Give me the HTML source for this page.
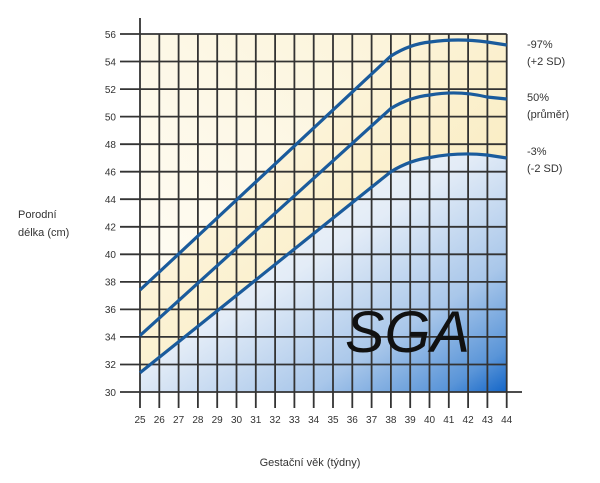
<!DOCTYPE html>
<html><head><meta charset="utf-8"><style>
html,body{margin:0;padding:0;background:#fff;width:600px;height:483px;overflow:hidden}
svg{display:block}
text{font-family:"Liberation Sans",sans-serif;fill:#333}
</style></head><body>
<svg width="600" height="483" viewBox="0 0 600 483">
<defs>
<linearGradient id="yel" x1="0" y1="0" x2="1" y2="1">
<stop offset="0" stop-color="#fefbf0"/><stop offset="1" stop-color="#f8e6ae"/>
</linearGradient>
<linearGradient id="top" x1="0" y1="1" x2="1" y2="0">
<stop offset="0" stop-color="#fffefa"/><stop offset="1" stop-color="#fbf2d4"/>
</linearGradient>
<linearGradient id="blu" x1="0.1" y1="0.1" x2="1" y2="1">
<stop offset="0" stop-color="#fffdf5"/><stop offset="0.4" stop-color="#e3ecf7"/><stop offset="0.7" stop-color="#a9c7ea"/><stop offset="0.9" stop-color="#5a95d8"/><stop offset="1" stop-color="#1466c8"/>
</linearGradient>
</defs>
<rect x="140" y="34" width="366.7" height="358" fill="url(#top)"/>
<path d="M140,290 L390.9,56 Q410,44 430,42 Q458,38 487,42 L506.7,45 L506.7,392 L140,392 Z" fill="url(#yel)"/>
<path d="M140,372.7 L390.9,171.7 Q410,160 430,157.5 Q458,152 487,155 L506.7,158 L506.7,392 L140,392 Z" fill="url(#blu)"/>
<g stroke="#333" stroke-width="1.8">
<line x1="159.3" y1="34" x2="159.3" y2="408"/><line x1="178.6" y1="34" x2="178.6" y2="408"/><line x1="197.9" y1="34" x2="197.9" y2="408"/><line x1="217.2" y1="34" x2="217.2" y2="408"/><line x1="236.5" y1="34" x2="236.5" y2="408"/><line x1="255.8" y1="34" x2="255.8" y2="408"/><line x1="275.1" y1="34" x2="275.1" y2="408"/><line x1="294.4" y1="34" x2="294.4" y2="408"/><line x1="313.7" y1="34" x2="313.7" y2="408"/><line x1="333" y1="34" x2="333" y2="408"/><line x1="352.3" y1="34" x2="352.3" y2="408"/><line x1="371.6" y1="34" x2="371.6" y2="408"/><line x1="390.9" y1="34" x2="390.9" y2="408"/><line x1="410.2" y1="34" x2="410.2" y2="408"/><line x1="429.5" y1="34" x2="429.5" y2="408"/><line x1="448.8" y1="34" x2="448.8" y2="408"/><line x1="468.1" y1="34" x2="468.1" y2="408"/><line x1="487.4" y1="34" x2="487.4" y2="408"/><line x1="506.7" y1="34" x2="506.7" y2="408"/>
<line x1="120" y1="34" x2="506.7" y2="34"/><line x1="120" y1="61.5" x2="506.7" y2="61.5"/><line x1="120" y1="89.1" x2="506.7" y2="89.1"/><line x1="120" y1="116.6" x2="506.7" y2="116.6"/><line x1="120" y1="144.2" x2="506.7" y2="144.2"/><line x1="120" y1="171.7" x2="506.7" y2="171.7"/><line x1="120" y1="199.2" x2="506.7" y2="199.2"/><line x1="120" y1="226.8" x2="506.7" y2="226.8"/><line x1="120" y1="254.3" x2="506.7" y2="254.3"/><line x1="120" y1="281.9" x2="506.7" y2="281.9"/><line x1="120" y1="309.4" x2="506.7" y2="309.4"/><line x1="120" y1="336.9" x2="506.7" y2="336.9"/><line x1="120" y1="364.5" x2="506.7" y2="364.5"/>
<line x1="120" y1="392" x2="522" y2="392"/>
<line x1="140" y1="18" x2="140" y2="408"/>
</g>
<g fill="none" stroke="#1a5b9c" stroke-width="3.2">
<path d="M140,290 L390.9,56 Q410,44 430,42 Q458,38 487,42 L506.7,45"/>
<path d="M140,335.6 L390.9,108.4 Q410,97 430,95 Q458,90 487,97 L506.7,99"/>
<path d="M140,372.7 L390.9,171.7 Q410,160 430,157.5 Q458,152 487,155 L506.7,158"/>
</g>
<text x="345" y="352" font-size="58" font-style="italic" style="fill:#111" textLength="125" lengthAdjust="spacingAndGlyphs">SGA</text>
<g font-size="10" text-anchor="end">
<text x="116" y="38">56</text><text x="116" y="65.5">54</text><text x="116" y="93">52</text><text x="116" y="120.5">50</text><text x="116" y="148">48</text><text x="116" y="175.5">46</text><text x="116" y="203">44</text><text x="116" y="230.5">42</text><text x="116" y="258">40</text><text x="116" y="285.5">38</text><text x="116" y="313">36</text><text x="116" y="340.5">34</text><text x="116" y="368">32</text><text x="116" y="396">30</text>
</g>
<g font-size="10" text-anchor="middle">
<text x="140" y="423">25</text><text x="159.3" y="423">26</text><text x="178.6" y="423">27</text><text x="197.9" y="423">28</text><text x="217.2" y="423">29</text><text x="236.5" y="423">30</text><text x="255.8" y="423">31</text><text x="275.1" y="423">32</text><text x="294.4" y="423">33</text><text x="313.7" y="423">34</text><text x="333" y="423">35</text><text x="352.3" y="423">36</text><text x="371.6" y="423">37</text><text x="390.9" y="423">38</text><text x="410.2" y="423">39</text><text x="429.5" y="423">40</text><text x="448.8" y="423">41</text><text x="468.1" y="423">42</text><text x="487.4" y="423">43</text><text x="506.7" y="423">44</text>
</g>
<g font-size="11">
<text x="527" y="48">-97%</text><text x="527" y="65">(+2 SD)</text>
<text x="527" y="101">50%</text><text x="527" y="118">(průměr)</text>
<text x="527" y="155">-3%</text><text x="527" y="172">(-2 SD)</text>
<text x="18" y="218">Porodní</text><text x="18" y="236">délka (cm)</text>
<text x="310" y="466" text-anchor="middle">Gestační věk (týdny)</text>
</g>
</svg>
</body></html>
